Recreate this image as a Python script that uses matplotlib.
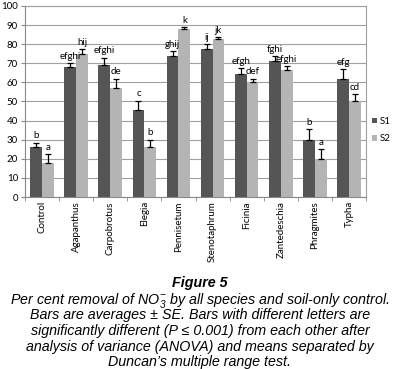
import numpy as np
import matplotlib.pyplot as plt

plt.rcParams['font.family'] = 'Lato'
plt.rcParams['mathtext.fontset'] = 'custom'
plt.rcParams['mathtext.rm'] = 'Liberation Sans:italic'
plt.rcParams['mathtext.it'] = 'Liberation Sans:italic'

# data
species = ['Control', 'Agapanthus', 'Carpobrotus', 'Elegia', 'Pennisetum',
           'Stenotaphrum', 'Ficinia', 'Zantedeschia', 'Phragmites', 'Typha']
s1 = [26, 68, 69, 45.5, 74, 77.4, 64.3, 71.3, 29.9, 61.9]
s1_se = [2.5, 2, 4, 5, 2.5, 2.6, 3.2, 2.3, 5.8, 5.1]
s2 = [18, 75, 57, 26, 88, 82.8, 60, 66.6, 20, 50.3]
s2_se = [4.5, 2.5, 5, 4, 1, 0.9, 1.9, 1.7, 5, 3.6]
s1_letters = ['b', 'efghi', 'efghi', 'c', 'ghij', 'ij', 'efgh', 'fghi', 'b', 'efg']
s2_letters = ['a', 'hij', 'de', 'b', 'k', 'jk', 'def', 'efghi', 'a', 'cd']

caption_lines = ['Per cent removal of NO$_{3}^{-}$ by all species and soil-only control.',
                 'Bars are averages \u00b1 SE. Bars with different letters are',
                 'significantly different (P \u2264 0.001) from each other after',
                 'analysis of variance (ANOVA) and means separated by',
                 'Duncan\u2019s multiple range test.']

fig = plt.figure(figsize=(4, 3.69), dpi=100)
ax = fig.add_axes([0.0625, 0.466, 0.8525, 0.518])

x = np.arange(len(species))
w = 0.345
c1, c2 = '#555555', '#b4b4b4'
ax.bar(x - w / 2, s1, w, color=c1, label='S1', zorder=3)
ax.bar(x + w / 2, s2, w, color=c2, label='S2', zorder=3)
ax.errorbar(x - w / 2, s1, yerr=[np.zeros(len(s1)), s1_se], fmt='none',
            ecolor='black', elinewidth=0.9, capsize=2, capthick=0.9, zorder=4)
ax.errorbar(x + w / 2, s2, yerr=[np.zeros(len(s2)), s2_se], fmt='none',
            ecolor='black', elinewidth=0.9, capsize=2, capthick=0.9, zorder=4)

for i in range(len(species)):
    ax.text(x[i] - w / 2, s1[i] + s1_se[i] + 1.2, s1_letters[i], ha='center',
            va='bottom', fontsize=7)
    ax.text(x[i] + w / 2, s2[i] + s2_se[i] + 1.2, s2_letters[i], ha='center',
            va='bottom', fontsize=7)

ax.set_xlim(-0.5, len(species) - 0.5)
ax.set_ylim(0, 100)
ax.set_yticks(range(0, 101, 10))
ax.set_xticks(x)
ax.set_xticklabels(species, rotation=90, fontsize=7)
ax.set_xticks(np.arange(-0.5, len(species)), minor=True)
ax.tick_params(axis='x', which='major', length=0, pad=3)
ax.tick_params(axis='x', which='minor', length=3, color='#888888')
ax.tick_params(axis='y', labelsize=7, length=3, color='#888888', pad=2)
ax.grid(axis='y', color='#a0a0a0', linewidth=0.8, zorder=0)
for s in ['top', 'right']:
    ax.spines[s].set_color('#a0a0a0')
for s in ['left', 'bottom']:
    ax.spines[s].set_color('#888888')

ax.legend(loc='center left', bbox_to_anchor=(1.0, 0.35), frameon=False,
          fontsize=7, handlelength=0.5, handleheight=0.5, labelspacing=0.85,
          handletextpad=0.3, borderaxespad=0.6, borderpad=0)

# caption under the chart
fig.text(0.5, 1 - 287 / 369, 'Figure 5', ha='center', va='baseline',
         fontsize=10.3, fontweight='bold', fontstyle='italic',
         family='Liberation Sans')
for k, line in enumerate(caption_lines):
    fig.text(0.5, 1 - (304 + 15.5 * k) / 369, line, ha='center', va='baseline',
             fontsize=10.3, fontstyle='italic', family='Liberation Sans')

fig.savefig('out.png', dpi=100)
